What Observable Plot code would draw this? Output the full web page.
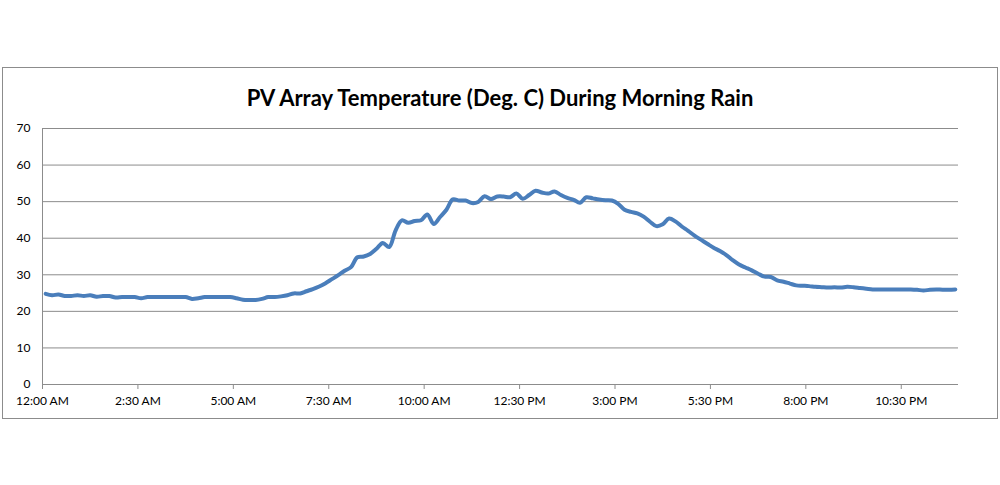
<!DOCTYPE html>
<html><head><meta charset="utf-8">
<script src="https://cdn.jsdelivr.net/npm/d3@7"></script>
<script src="https://cdn.jsdelivr.net/npm/@observablehq/plot@0.6"></script>
<style>
body{margin:0;background:#fff;font-family:Lato,"Open Sans",sans-serif;}
#frame{position:absolute;left:2px;top:67px;width:994px;height:350px;border:1px solid #8c8c8c;}
#title{position:absolute;left:0;top:84px;width:1000px;text-align:center;font-size:22px;font-weight:bold;color:#000;}
#chart{position:absolute;left:0;top:0;}
</style></head><body>
<div id="frame"></div>
<div id="title">PV Array Temperature (Deg. C) During Morning Rain</div>
<div id="chart"></div>
<script>
const tickLabels = ["12:00 AM","2:30 AM","5:00 AM","7:30 AM","10:00 AM","12:30 PM","3:00 PM","5:30 PM","8:00 PM","10:30 PM"];
const yTicks = [0,10,20,30,40,50,60,70];
// temperature every 10 minutes from 12:00 AM
const temps = [
24.8,24.4,24.6,24.2,24.2,24.4,24.2,24.4,24.0,24.2,24.2,23.8,23.9,23.9,23.9,23.6,
23.9,23.9,23.9,23.9,23.9,23.9,23.9,23.4,23.6,23.9,23.9,23.9,23.9,23.9,23.6,23.2,
23.1,23.1,23.4,23.9,23.9,24.1,24.4,24.9,24.9,25.5,26.1,26.8,27.7,28.8,29.9,31.1,
32.1,34.8,35.0,35.7,37.1,38.7,37.6,42.1,44.9,44.2,44.7,44.9,46.5,43.9,45.8,47.8,
50.6,50.3,50.3,49.6,49.9,51.5,50.7,51.4,51.4,51.2,52.2,50.8,51.8,53.0,52.5,52.2,
52.8,51.8,51.0,50.5,49.7,51.2,50.9,50.6,50.4,50.3,49.4,47.8,47.2,46.8,45.9,44.5,
43.3,43.8,45.4,44.6,43.2,42.0,40.7,39.6,38.5,37.4,36.5,35.4,34.0,32.8,32.0,31.2,
30.3,29.5,29.4,28.5,28.1,27.6,27.1,27.0,26.9,26.7,26.6,26.5,26.6,26.5,26.7,26.6,
26.4,26.2,26.0,26.0,26.0,26.0,26.0,26.0,26.0,25.9,25.7,25.9,26.0,25.9,25.9,26.0
];
const data = temps.map((v,i)=>({i, v}));
const xTicks = tickLabels.map((_,k)=>k*15-0.5);
const plot = Plot.plot({
  width:1000, height:485,
  marginLeft:42, marginRight:42, marginTop:128, marginBottom:101,
  style:{fontFamily:"Lato, 'Open Sans', sans-serif", fontSize:"12px", color:"#000", background:"transparent"},
  x:{domain:[-0.5,143.5]},
  y:{domain:[0,70]},
  marks:[
    Plot.gridY(yTicks.filter(d=>d>0),{stroke:"#8c8c8c",strokeOpacity:1,strokeWidth:1}),
    Plot.ruleY([0],{stroke:"#8c8c8c"}),
    Plot.ruleX([-0.5],{stroke:"#8c8c8c"}),
    Plot.axisY(yTicks,{tickSize:0,tickPadding:12,label:null,fill:"#000"}),
    Plot.axisX(xTicks,{tickSize:5,tickPadding:7,stroke:"#8c8c8c",label:null,fill:"#000",tickFormat:(d)=>tickLabels[Math.round((d+0.5)/15)]}),
    Plot.line(data,{x:"i",y:"v",stroke:"#4a7ebb",strokeWidth:4,curve:"catmull-rom"})
  ]
});
document.getElementById("chart").append(plot);
</script>
</body></html>
